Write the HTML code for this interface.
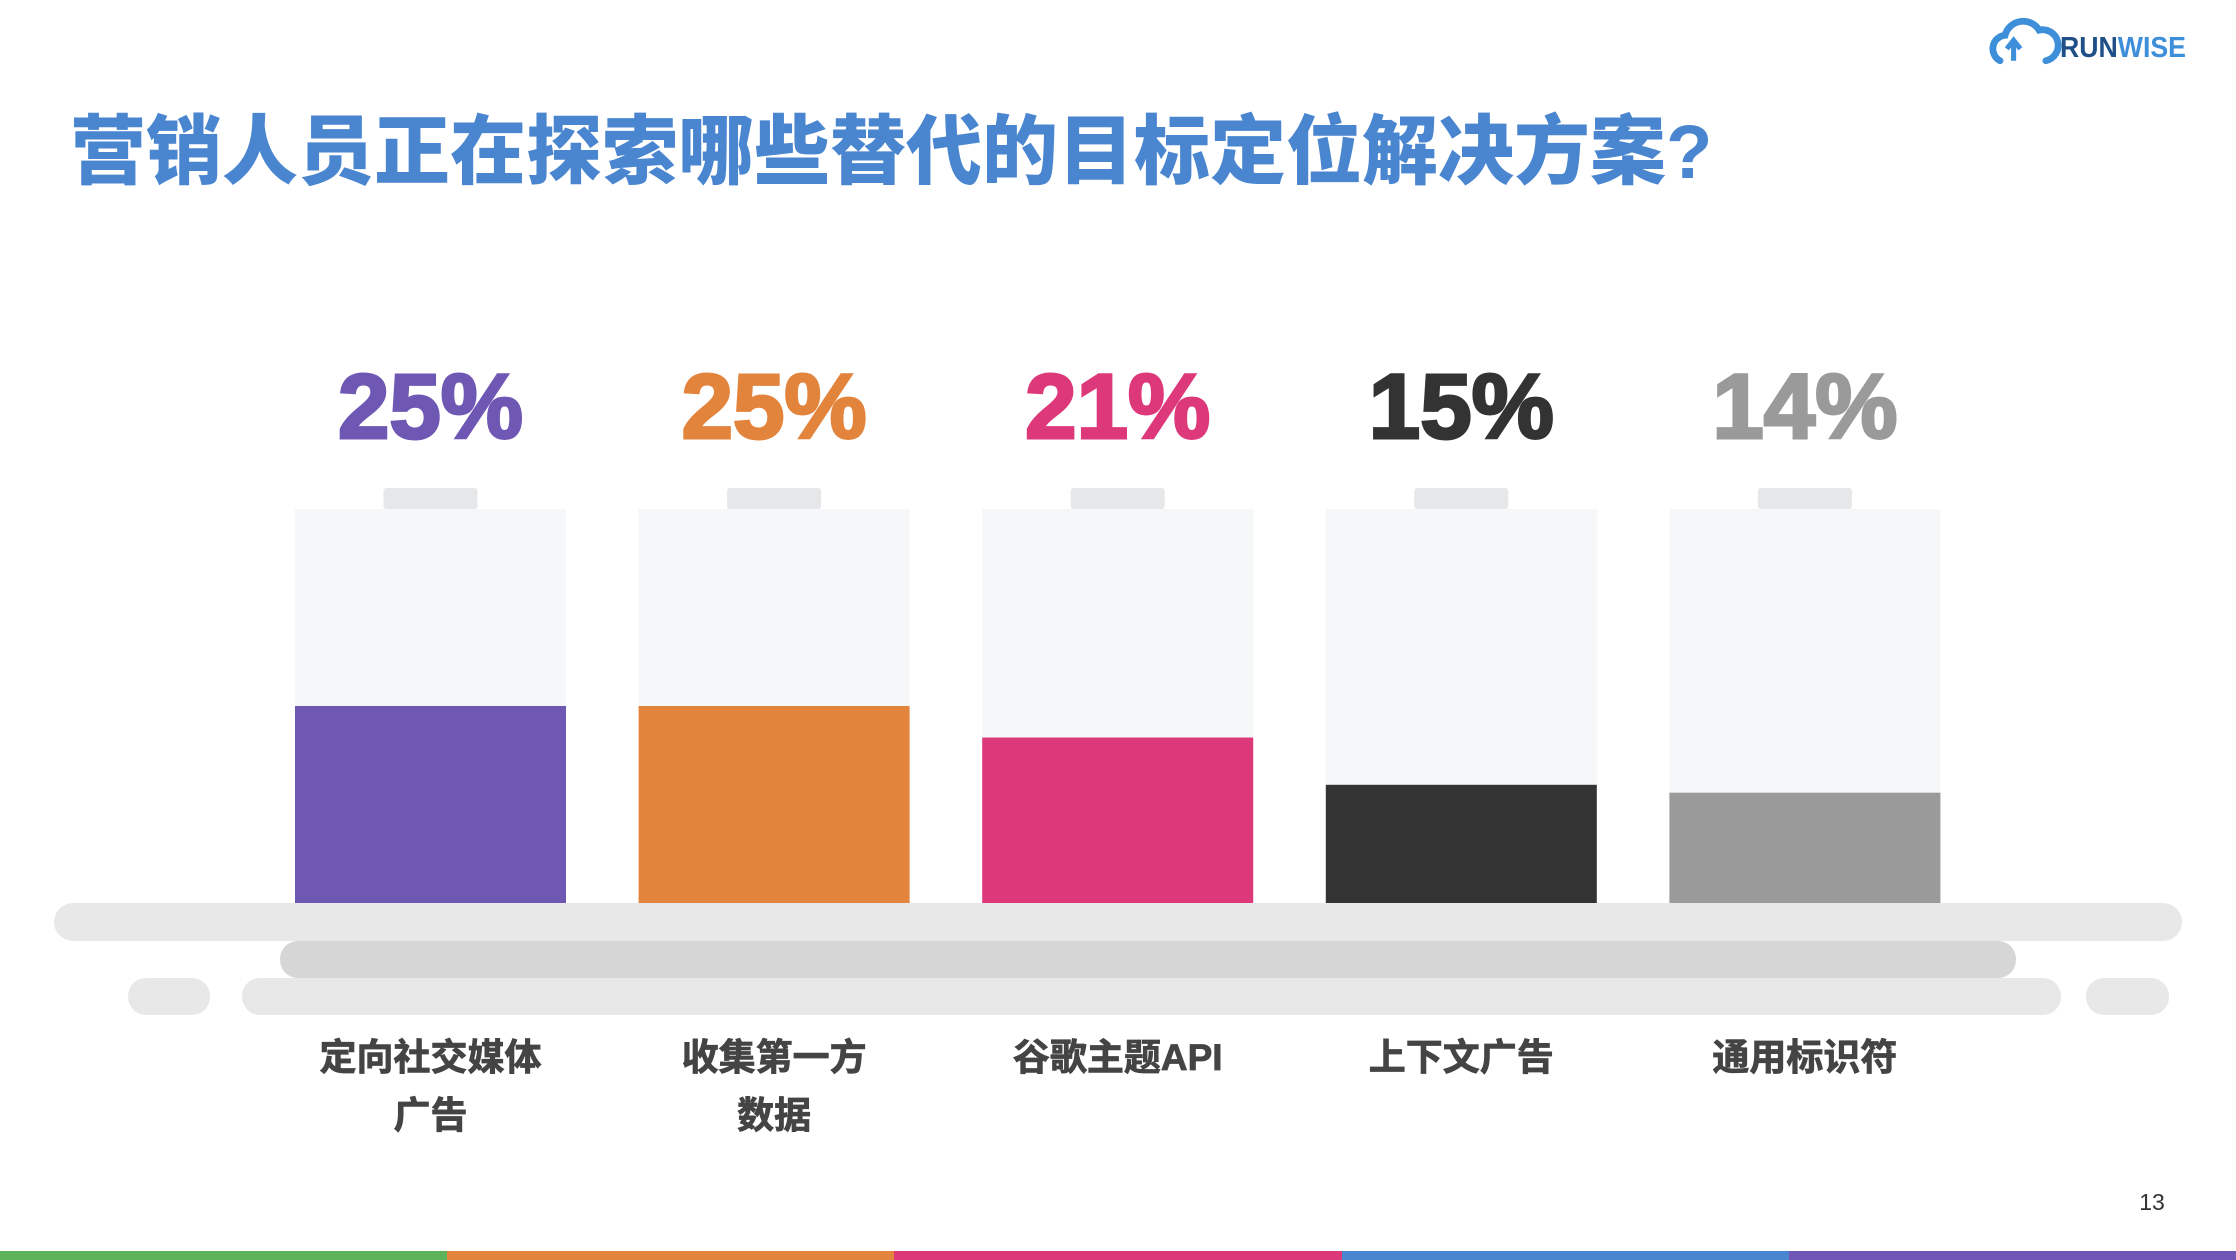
<!DOCTYPE html>
<html><head><meta charset="utf-8">
<style>
html,body{margin:0;padding:0;background:#fff;}
body{width:2236px;height:1260px;overflow:hidden;position:relative;font-family:"Liberation Sans","Noto Sans CJK SC",sans-serif;}
</style></head>
<body>
<svg id="chart" width="2236" height="1260" xmlns="http://www.w3.org/2000/svg" style="position:absolute;left:0;top:0">
  <text x="70" y="178" font-family="'Liberation Sans','Noto Sans CJK SC',sans-serif" font-weight="900" font-size="76" fill="#4a86d0">营销人员正在探索哪些替代的目标定位解决方案?</text>
  <g>
    <g transform="translate(300,8) scale(0.85)">
      <path d="M2000 62 a16 16 0 0 1 6 -30 a22 22 0 0 1 40 -6 a16 16 0 0 1 8 36" fill="none" stroke="#3d8fd9" stroke-width="8" stroke-linecap="round"/>
      <path d="M2016 62 l0 -22 m-8 8 l8 -10 l8 10" fill="none" stroke="#3d8fd9" stroke-width="6"/>
    </g>
    <text x="2060" y="57" font-family="'Liberation Sans',sans-serif" font-weight="bold" font-size="29" textLength="126" lengthAdjust="spacingAndGlyphs" fill="#1f4f86">RUN<tspan fill="#3d8fd9">WISE</tspan></text>
  </g>
  <g>
    <rect x="54" y="903" width="2128" height="38" rx="19" fill="#e8e8e9"/>
    <rect x="280" y="941" width="1736" height="37" rx="18" fill="#d6d6d6"/>
    <rect x="242" y="978" width="1819" height="37" rx="18" fill="#e8e8e9"/>
    <rect x="128" y="978" width="82" height="37" rx="18" fill="#e8e8e9"/>
    <rect x="2086" y="978" width="83" height="37" rx="18" fill="#e8e8e9"/>
  </g>
  <g id="bars"></g>
  <text x="2152" y="1210" text-anchor="middle" font-size="23" fill="#333">13</text>
  <g>
    <rect x="0" y="1251" width="447" height="9" fill="#5cb35a"/>
    <rect x="447" y="1251" width="447" height="9" fill="#e3843d"/>
    <rect x="894" y="1251" width="448" height="9" fill="#dd387a"/>
    <rect x="1342" y="1251" width="447" height="9" fill="#4a86d0"/>
    <rect x="1789" y="1251" width="447" height="9" fill="#7057b5"/>
  </g>
</svg>
<script>
const categories = [["定向社交媒体","广告"],["收集第一方","数据"],["谷歌主题API"],["上下文广告"],["通用标识符"]];
const values = [25, 25, 21, 15, 14];
const valueLabels = ["25%","25%","21%","15%","14%"];
const colors = ["#6f57b4","#e3843d","#dd387a","#333333","#9a9a9a"];
const yMax = 50;

const NS = "http://www.w3.org/2000/svg";
const barGroup = document.getElementById('bars');
const X0 = 295, STEP = 343.6, BW = 271, YTOP = 509, YBOT = 903;
function xPos(i){ return X0 + i*STEP; }
function yPos(v){ return YBOT - (v / yMax) * (YBOT - YTOP); }
function mk(tag, attrs){ const e = document.createElementNS(NS, tag); for (const k in attrs) e.setAttribute(k, attrs[k]); return e; }
values.forEach((v, i) => {
  const x = xPos(i), cx = x + BW/2;
  const tab = mk('rect', {x: cx-47, y: 488, width: 94, height: 21, rx: 3, fill: '#e6e7e9'});
  
  
  barGroup.appendChild(tab);
  const bg = mk('rect', {x: x, y: YTOP, width: BW, height: YBOT-YTOP, fill: '#f6f7f8'});
  
  
  barGroup.appendChild(bg);
  const bar = mk('rect', {x: x, y: yPos(v), width: BW, height: YBOT - yPos(v), fill: colors[i]});
  
  
  barGroup.appendChild(bar);
  const t = mk('text', {x: cx, y: 438, 'text-anchor': 'middle', 'font-family': "'Liberation Sans',sans-serif", 'font-weight': 'bold', 'font-size': 92, textLength: 185, lengthAdjust: 'spacingAndGlyphs', fill: colors[i], stroke: colors[i], 'stroke-width': 3});
  t.textContent = valueLabels[i];
  
  
  barGroup.appendChild(t);
  categories[i].forEach((line, j) => {
    const l = mk('text', {x: cx, y: 1070 + j*58, 'text-anchor': 'middle', 'font-family': "'Liberation Sans','Noto Sans CJK SC',sans-serif", 'font-weight': 'bold', 'font-size': 37, fill: '#444', stroke: '#444', 'stroke-width': 0.8});
    l.textContent = line;
    
    
    barGroup.appendChild(l);
  });
});
</script>
</body></html>
